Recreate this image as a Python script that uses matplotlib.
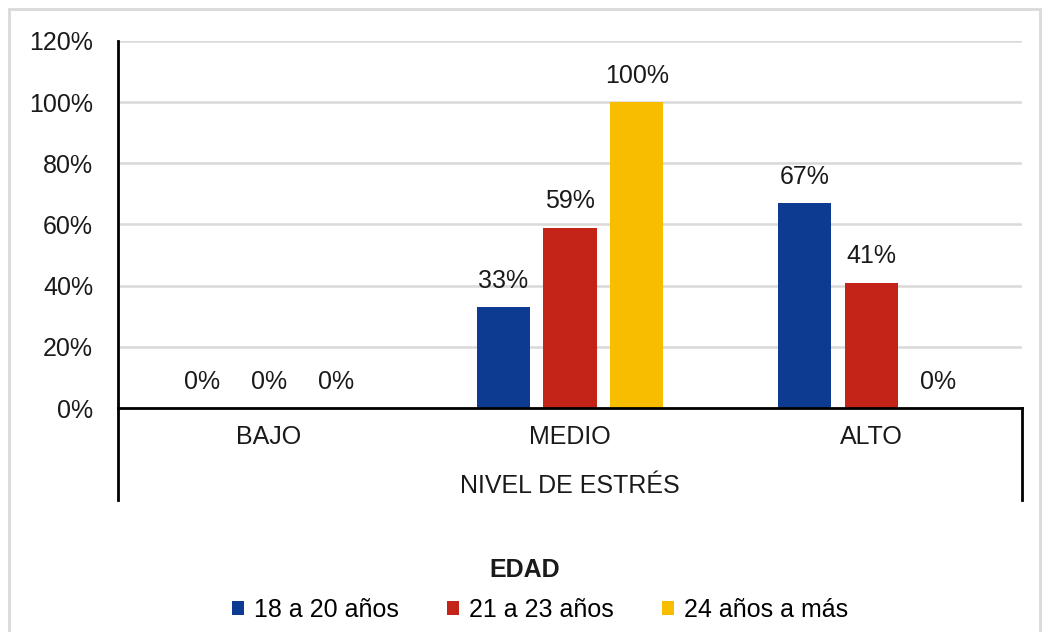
import numpy as np
import matplotlib
matplotlib.use('Agg')
import matplotlib.pyplot as plt
from matplotlib.patches import Patch, Rectangle
from matplotlib.lines import Line2D

# ---------------- data ----------------
niveles = ['BAJO', 'MEDIO', 'ALTO']
series = ['18 a 20 años', '21 a 23 años', '24 años a más']
v_18_20 = [0, 33, 67]
v_21_23 = [0, 59, 41]
v_24_mas = [0, 100, 0]
colores = ['#0d3b91', '#c42318', '#f9bd00']

# ---------------- figure ----------------
plt.rcParams['font.family'] = ['Liberation Sans', 'DejaVu Sans']
plt.rcParams['font.size'] = 18

W, H = 1048, 632
fig = plt.figure(figsize=(W / 100, H / 100), dpi=100)

# light border around the chart
fig.patches.append(Rectangle((9 / W, -0.05), (1040 - 9) / W, 1.05 - 9 / H,
                             transform=fig.transFigure, fill=False,
                             edgecolor='#d9d9d9', linewidth=2))

x0, x1, y0, y1 = 118, 1022, 408, 41
ax = fig.add_axes([x0 / W, 1 - y0 / H, (x1 - x0) / W, (y0 - y1) / H])

x = np.arange(len(niveles))
ancho = 0.176
paso = 0.222
valores = [v_18_20, v_21_23, v_24_mas]
for i, (vals, col, nom) in enumerate(zip(valores, colores, series)):
    pos = x + (i - 1) * paso
    ax.bar(pos, np.array(vals) / 100, width=ancho, color=col, label=nom, zorder=3)
    for p, v in zip(pos, vals):
        ax.annotate('%d%%' % v, (p, v / 100), xytext=(0, 19), textcoords='offset points',
                    ha='center', va='center', fontsize=18, color='#1a1a1a')

ax.set_xlim(-0.5, 2.5)
ax.set_ylim(0, 1.2)
ax.set_yticks(np.arange(0, 1.21, 0.2))
ax.set_yticklabels(['%d%%' % (t * 100) for t in np.arange(0, 1.21, 0.2)], color='#1a1a1a')
ax.tick_params(axis='y', length=0, pad=18)
ax.set_xticks([])
ax.yaxis.grid(True, color='#d9d9d9', linewidth=1.8, zorder=0)
ax.set_axisbelow(True)

for s in ['top', 'right']:
    ax.spines[s].set_visible(False)
ax.spines['left'].set_color('black')
ax.spines['left'].set_linewidth(2)
ax.spines['bottom'].set_color('black')
ax.spines['bottom'].set_linewidth(2)
ax.spines['bottom'].set_zorder(4)

# multi-level category axis
bajo = -(500 - y0) / (y0 - y1)
for xx in [0, 1]:
    ax.add_line(Line2D([xx, xx], [bajo, 0], transform=ax.transAxes, color='black',
                       linewidth=2, clip_on=False))
trans = ax.get_xaxis_transform()
for i, n in enumerate(niveles):
    ax.text(i, -(437 - y0) / (y0 - y1), n, transform=trans, ha='center', va='center',
            fontsize=18, color='#1a1a1a')
ax.text(0.5, -(486 - y0) / (y0 - y1), 'NIVEL DE ESTRÉS', transform=ax.transAxes,
        ha='center', va='center', fontsize=18, color='#1a1a1a')

# legend
fig.text(525 / W, 1 - 570 / H, 'EDAD', ha='center', va='center', fontsize=18,
         fontweight='bold', color='#1a1a1a')
handles = [Patch(facecolor=c, edgecolor='none') for c in colores]
fig.legend(handles, series, loc='center', bbox_to_anchor=(540 / W, 1 - 610 / H), ncol=3,
           frameon=False, handlelength=0.5, handleheight=0.5, handletextpad=0.4,
           columnspacing=1.9, fontsize=18)

fig.savefig('out.png', dpi=100)
